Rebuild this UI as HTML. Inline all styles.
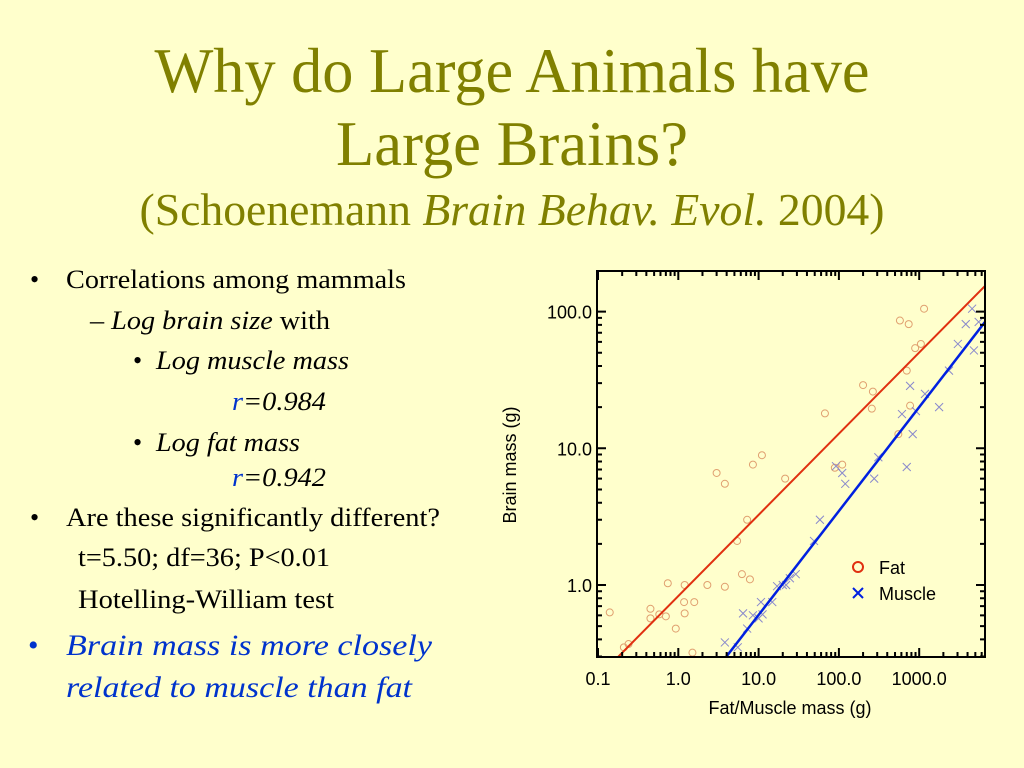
<!DOCTYPE html>
<html><head><meta charset="utf-8"><style>
html,body{margin:0;padding:0;background:#ffffcc;}
body{width:1024px;height:768px;position:relative;overflow:hidden;font-family:"Liberation Serif",serif;}
</style></head><body>
<svg width="1024" height="768" style="position:absolute;left:0;top:0" font-family="Liberation Serif, serif">
<g fill="#808000" text-anchor="middle">
<text x="512" y="92" font-size="64" textLength="715" lengthAdjust="spacingAndGlyphs">Why do Large Animals have</text>
<text x="512" y="165" font-size="64" textLength="352" lengthAdjust="spacingAndGlyphs">Large Brains?</text>
<text x="512" y="225" font-size="46" textLength="745" lengthAdjust="spacingAndGlyphs">(Schoenemann <tspan font-style="italic">Brain Behav. Evol.</tspan> 2004)</text>
</g>
<g font-size="26" fill="#000">
<text x="30" y="288">•</text>
<text x="66" y="288" textLength="340" lengthAdjust="spacingAndGlyphs">Correlations among mammals</text>
<text x="90" y="329" textLength="240" lengthAdjust="spacingAndGlyphs">– <tspan font-style="italic">Log brain size</tspan> with</text>
<text x="133" y="369">•</text>
<text x="156" y="369" font-style="italic" textLength="193" lengthAdjust="spacingAndGlyphs">Log muscle mass</text>
<text x="232" y="410" font-style="italic" textLength="94" lengthAdjust="spacingAndGlyphs"><tspan fill="#0033cc">r</tspan>=0.984</text>
<text x="133" y="451">•</text>
<text x="156" y="451" font-style="italic" textLength="144" lengthAdjust="spacingAndGlyphs">Log fat mass</text>
<text x="232" y="486" font-style="italic" textLength="94" lengthAdjust="spacingAndGlyphs"><tspan fill="#0033cc">r</tspan>=0.942</text>
<text x="30" y="526">•</text>
<text x="66" y="526" textLength="374" lengthAdjust="spacingAndGlyphs">Are these significantly different?</text>
<text x="78" y="566" textLength="252" lengthAdjust="spacingAndGlyphs">t=5.50; df=36; P&lt;0.01</text>
<text x="78" y="608" textLength="256" lengthAdjust="spacingAndGlyphs">Hotelling-William test</text>
<text x="28" y="655" font-size="30" fill="#0033cc">•</text>
<text x="66" y="655" font-size="30" fill="#0033cc" font-style="italic" textLength="366" lengthAdjust="spacingAndGlyphs">Brain mass is more closely</text>
<text x="66" y="697" font-size="30" fill="#0033cc" font-style="italic" textLength="346" lengthAdjust="spacingAndGlyphs">related to muscle than fat</text>
</g>
</svg>

<svg id="chart" width="1024" height="768" style="position:absolute;left:0;top:0" font-family="Liberation Sans, sans-serif"></svg>
<script>
const fatX=[1150,575,740,1050,890,700,200,265,257,67,770,550,11,8.5,3.0,3.8,21.4,110,89,7.2,5.4,6.2,7.8,2.3,3.8,1.2,0.74,1.18,1.58,0.45,0.45,0.58,0.7,1.2,0.93,0.14,0.21,0.24,1.5];
const fatY=[105,86,81,58,54,37,29,26,19.5,18,20.5,12.7,8.9,7.6,6.6,5.5,6.0,7.6,7.2,3.0,2.1,1.2,1.1,1.0,0.97,1.0,1.03,0.75,0.75,0.67,0.57,0.61,0.59,0.62,0.48,0.63,0.35,0.37,0.32];
const musX=[4560,3800,5500,3030,4800,2350,770,1180,610,910,1770,830,310,700,92,110,120,275,58,49,29,24.5,20,17,22,14.8,10.7,6.4,8.5,11.2,10,7.2,3.8,5.5];
const musY=[105,81,84,58,52,37,28.6,25,17.8,18.7,20,12.7,8.6,7.3,7.4,6.6,5.5,6.0,3.0,2.1,1.2,1.12,1.0,0.98,1.0,0.75,0.75,0.62,0.6,0.61,0.57,0.48,0.38,0.35];
const fatFit=[[0.177,0.297],[6600,154]];
const musFit=[[3.93,0.297],[6600,84]];
const xTicks=[0.1,1,10,100,1000];
const xTickLabels=["0.1","1.0","10.0","100.0","1000.0"];
const yTicks=[1,10,100];
const yTickLabels=["1.0","10.0","100.0"];

const L=597,R=985,T=271,B=657;
const X0=598,XD=80.3,Y1=585,YD=136.7;
const sx=v=>X0+(Math.log10(v)+1)*XD;
const sy=v=>Y1-Math.log10(v)*YD;
const svg=document.getElementById('chart');
const NS='http://www.w3.org/2000/svg';
function mk(tag,attrs,parent){const e=document.createElementNS(NS,tag);for(const k in attrs)e.setAttribute(k,attrs[k]);(parent||svg).appendChild(e);return e;}
const clip=mk('clipPath',{id:'pc'});mk('rect',{x:L,y:T,width:R-L,height:B-T},clip);
const plot=mk('g',{'clip-path':'url(#pc)'});


fatX.forEach((x,i)=>{const c=mk('circle',{cx:sx(x),cy:sy(fatY[i]),r:3.5,fill:'none',stroke:'#e0a070','stroke-width':1},plot);

});
musX.forEach((x,i)=>{const px=sx(x),py=sy(musY[i]),s=4;const g=mk('path',{d:`M${px-s},${py-s}L${px+s},${py+s}M${px-s},${py+s}L${px+s},${py-s}`,stroke:'#8888cc','stroke-width':1},plot);

});
const fl=mk('line',{x1:sx(fatFit[0][0]),y1:sy(fatFit[0][1]),x2:sx(fatFit[1][0]),y2:sy(fatFit[1][1]),stroke:'#e03010','stroke-width':2},plot);


const ml=mk('line',{x1:sx(musFit[0][0]),y1:sy(musFit[0][1]),x2:sx(musFit[1][0]),y2:sy(musFit[1][1]),stroke:'#0020e0','stroke-width':2.5},plot);


const fr=mk('rect',{x:L,y:T,width:R-L,height:B-T,fill:'none',stroke:'#000','stroke-width':2});


let d='';
for(let e=-1;e<4;e++)for(let m=1;m<10;m++){const v=m*Math.pow(10,e);const px=sx(v);if(px<L||px>R)continue;const len=m==1?9:5;d+=`M${px},${B}v${-len}M${px},${T}v${len}`;}
for(let e=-1;e<3;e++)for(let m=1;m<10;m++){const v=m*Math.pow(10,e);const py=sy(v);if(py<T||py>B)continue;const len=m==1?9:5;d+=`M${L},${py}h${len}M${R},${py}h${-len}`;}
const tk=mk('path',{d:d,stroke:'#000','stroke-width':2,fill:'none'});


xTicks.forEach((v,i)=>{const t=mk('text',{x:sx(v),y:685,'font-size':18,'text-anchor':'middle'});t.textContent=xTickLabels[i];

});
yTicks.forEach((v,i)=>{const t=mk('text',{x:592,y:sy(v)+7,'font-size':18,'text-anchor':'end'});t.textContent=yTickLabels[i];

});
const xt=mk('text',{x:790,y:714,'font-size':18,'text-anchor':'middle'});xt.textContent='Fat/Muscle mass (g)';


const yt=mk('text',{x:0,y:0,'font-size':18,'text-anchor':'middle',transform:'translate(516,465) rotate(-90)'});yt.textContent='Brain mass (g)';


const lc=mk('circle',{cx:858,cy:567,r:5,fill:'none',stroke:'#e03010','stroke-width':2});


const lt1=mk('text',{x:879,y:574,'font-size':18});lt1.textContent='Fat';


const lx=mk('path',{d:'M853,588l10,10M853,598l10,-10',stroke:'#0020e0','stroke-width':2});


const lt2=mk('text',{x:879,y:600,'font-size':18});lt2.textContent='Muscle';


</script>
</body></html>
